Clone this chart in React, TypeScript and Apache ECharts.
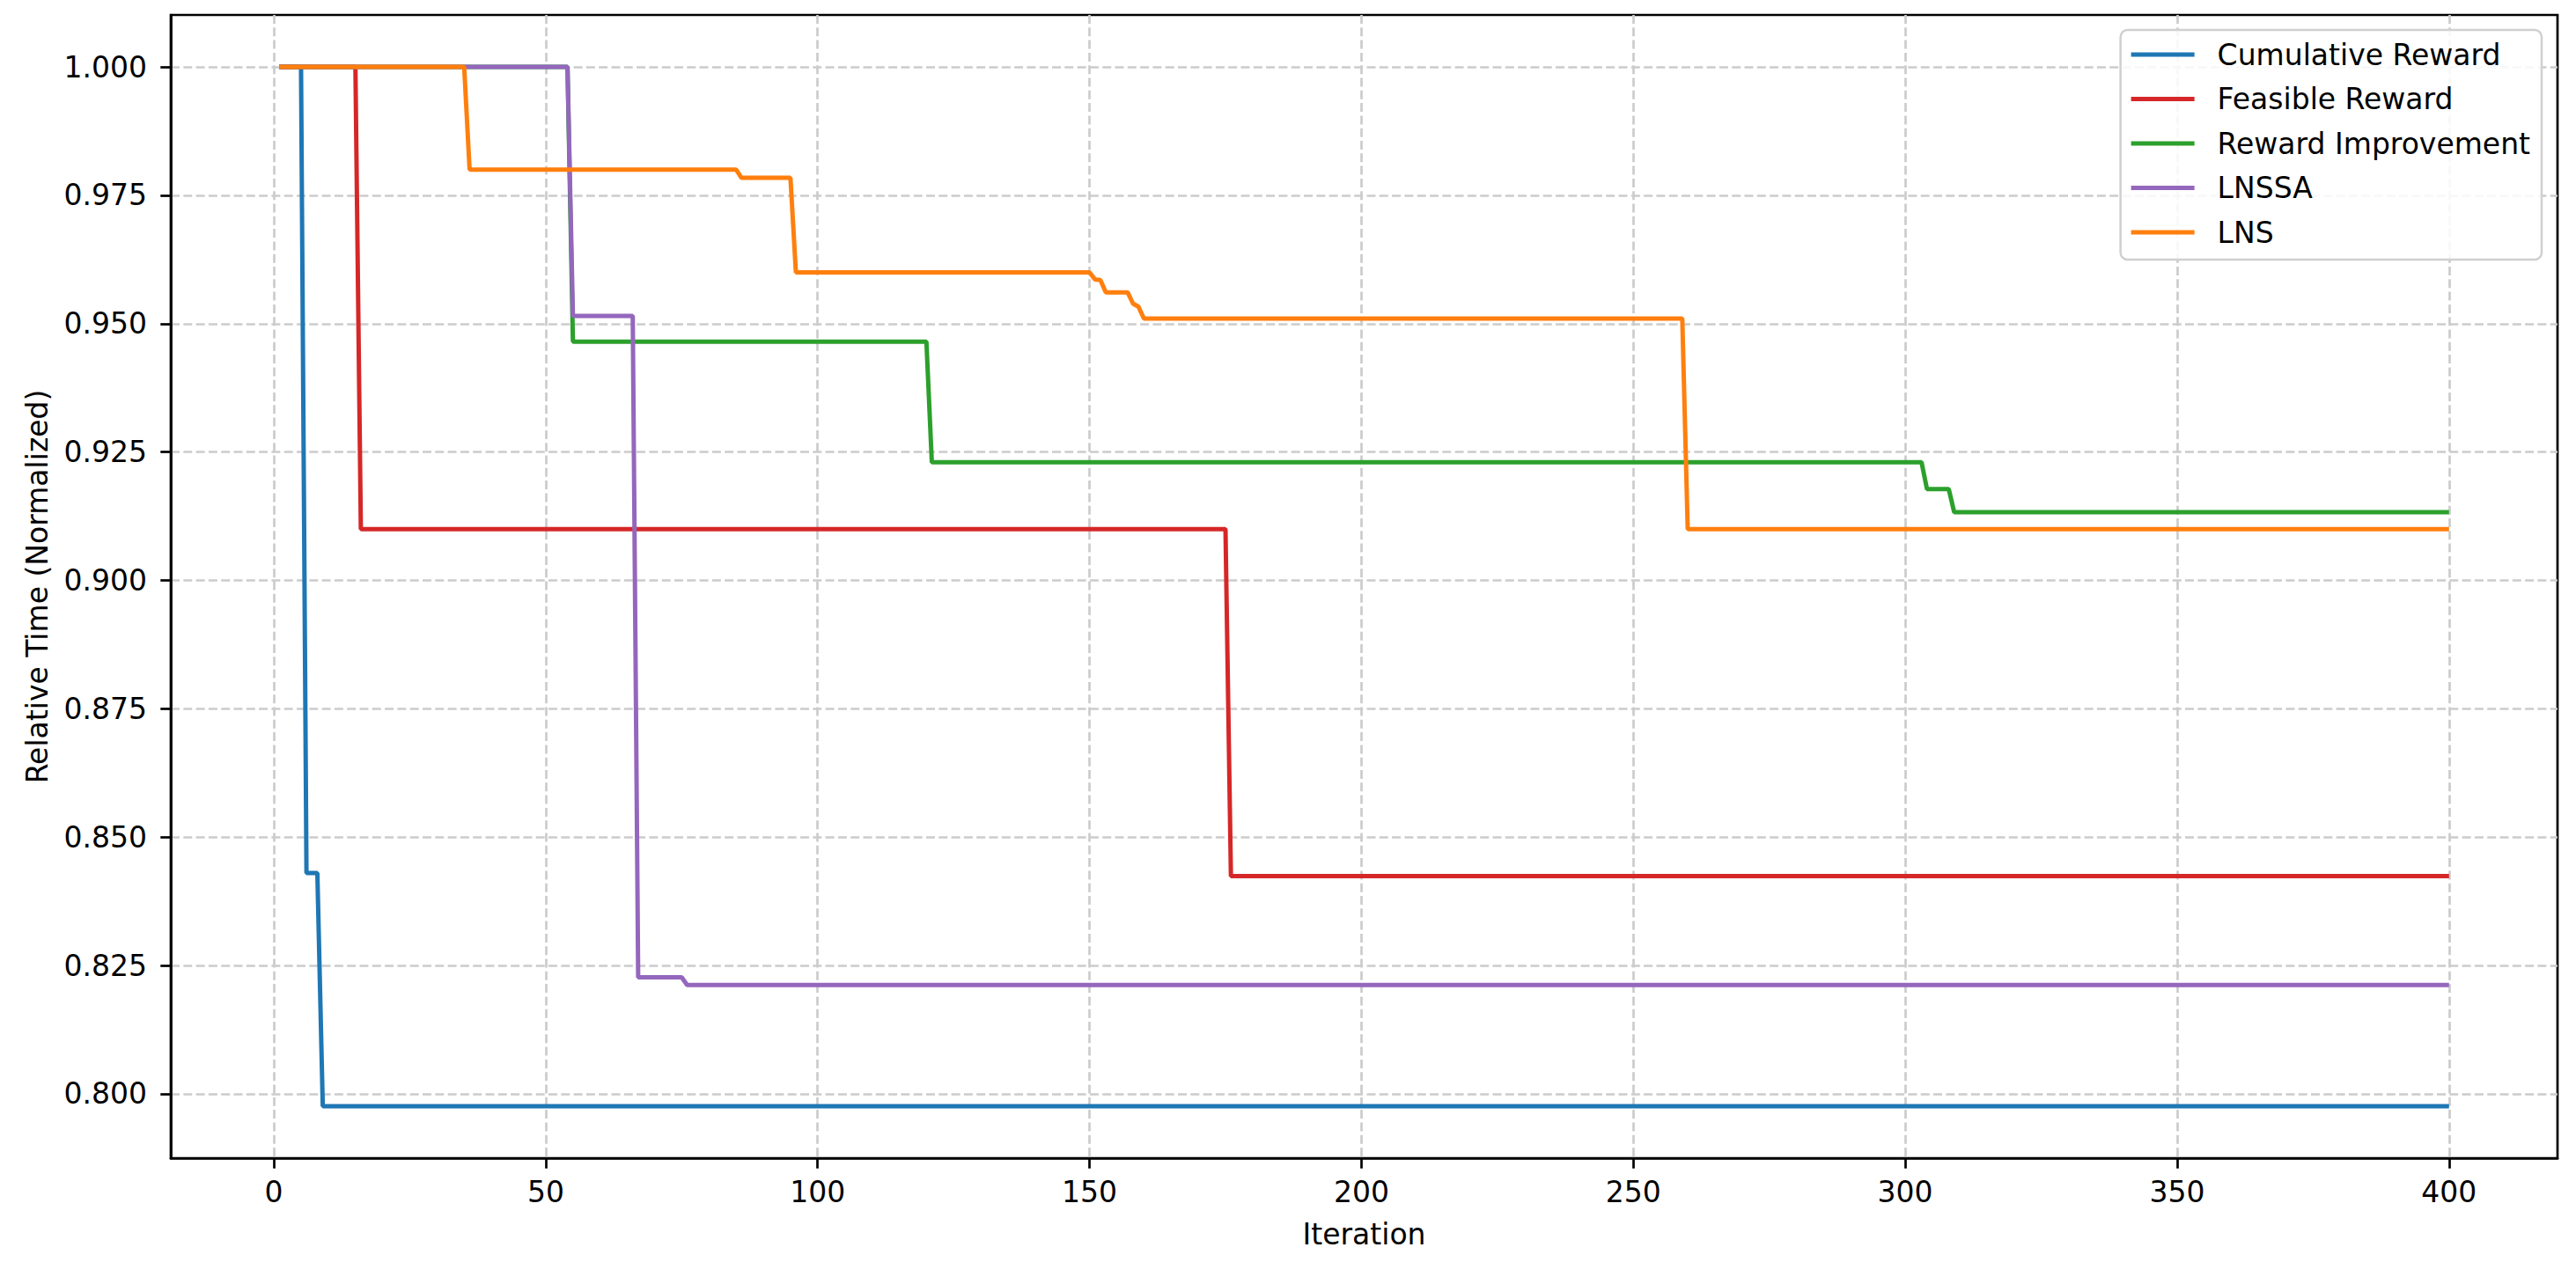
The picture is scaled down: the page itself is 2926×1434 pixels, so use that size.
import React, { useEffect, useRef } from "react";
import * as echarts from "echarts";

// Tick values
const iterationTicks = [0, 50, 100, 150, 200, 250, 300, 350, 400];
const timeTicks = [0.8, 0.825, 0.85, 0.875, 0.9, 0.925, 0.95, 0.975, 1.0];

// Series names and colours
const seriesNames = ["Cumulative Reward", "Feasible Reward", "Reward Improvement", "LNSSA", "LNS"];
const seriesColors = ["#1f77b4", "#d62728", "#2ca02c", "#9467bd", "#ff7f0e"];

// Change points [iteration, relative time]
const cumulativeReward = [[1, 1.0], [5, 1.0], [6, 0.843], [8, 0.843], [9, 0.7976], [400, 0.7976]];
const feasibleReward = [[1, 1.0], [15, 1.0], [16, 0.91], [175, 0.91], [176, 0.8424], [400, 0.8424]];
const rewardImprovement = [
  [1, 1.0], [54, 1.0], [55, 0.9465], [120, 0.9465], [121, 0.923], [303, 0.923],
  [304, 0.9178], [308, 0.9178], [309, 0.9133], [400, 0.9133],
];
const lnssa = [[1, 1.0], [54, 1.0], [55, 0.9515], [66, 0.9515], [67, 0.8227], [75, 0.8227], [76, 0.8212], [400, 0.8212]];
const lns = [
  [1, 1.0], [35, 1.0], [36, 0.98], [85, 0.98], [86, 0.9784], [95, 0.9784], [96, 0.96], [150, 0.96],
  [151, 0.9586], [152, 0.9585], [153, 0.9561], [157, 0.9561], [158, 0.9539], [159, 0.9533],
  [160, 0.951], [259, 0.951], [260, 0.91], [400, 0.91],
];

const allSeries = [cumulativeReward, feasibleReward, rewardImprovement, lnssa, lns];

const FONT = "DejaVu Sans";

export default function App() {
  const ref = useRef<HTMLDivElement>(null);

  useEffect(() => {
    if (!ref.current) return;
    const chart = echarts.init(ref.current, null, { renderer: "svg" });

    // matplotlib-like 5% autoscale margins
    const xs = allSeries.flat().map((p) => p[0]);
    const ys = allSeries.flat().map((p) => p[1]);
    const xMin0 = Math.min(...xs), xMax0 = Math.max(...xs);
    const yMin0 = Math.min(...ys), yMax0 = Math.max(...ys);
    const xm = (xMax0 - xMin0) * 0.05;
    const ym = (yMax0 - yMin0) * 0.05;

    const gridColor = "#cccccc";

    chart.setOption({
      animation: false,
      backgroundColor: "#ffffff",
      grid: {
        left: 194,
        right: 21,
        top: 17,
        bottom: 118,
        show: true,
        borderColor: "#000000",
        borderWidth: 2.7,
        containLabel: false,
      },
      legend: {
        orient: "vertical",
        right: 39,
        top: 34,
        data: seriesNames.map((n) => ({ name: n, icon: "rect" })),
        itemWidth: 72,
        itemHeight: 5,
        itemGap: 10.5,
        padding: [8, 13, 11, 12],
        backgroundColor: "rgba(255,255,255,0.85)",
        borderColor: "#d0d0d0",
        borderWidth: 2.5,
        borderRadius: 8,
        textStyle: {
          fontFamily: FONT,
          fontSize: 33,
          color: "#000000",
          lineHeight: 40,
          padding: [0, 0, 0, 21],
        },
      },
      xAxis: {
        type: "value",
        min: xMin0 - xm,
        max: xMax0 + xm,
        name: "Iteration",
        nameLocation: "middle",
        nameGap: 70,
        nameTextStyle: { fontFamily: FONT, fontSize: 33, color: "#000000" },
        axisLine: { show: true, onZero: false, lineStyle: { color: "#000000", width: 2.7 } },
        axisTick: {
          show: true,
          length: 11.7,
          customValues: iterationTicks,
          lineStyle: { color: "#000000", width: 2.7 },
        },
        axisLabel: {
          customValues: iterationTicks,
          margin: 22,
          fontFamily: FONT,
          fontSize: 33,
          color: "#000000",
          formatter: (v: number) => String(v),
        },
        splitLine: {
          show: true,
          lineStyle: { color: gridColor, width: 2.7, type: [10, 4.3] },
        },
      },
      yAxis: {
        type: "value",
        min: yMin0 - ym,
        max: yMax0 + ym,
        name: "Relative Time (Normalized)",
        nameLocation: "middle",
        nameGap: 135,
        nameTextStyle: { fontFamily: FONT, fontSize: 33, color: "#000000" },
        axisLine: { show: true, onZero: false, lineStyle: { color: "#000000", width: 2.7 } },
        axisTick: {
          show: true,
          length: 11.7,
          customValues: timeTicks,
          lineStyle: { color: "#000000", width: 2.7 },
        },
        axisLabel: {
          customValues: timeTicks,
          margin: 27,
          fontFamily: FONT,
          fontSize: 33,
          color: "#000000",
          formatter: (v: number) => v.toFixed(3),
        },
        splitLine: {
          show: true,
          lineStyle: { color: gridColor, width: 2.7, type: [10, 4.3] },
        },
      },
      series: allSeries.map((data, i) => ({
        name: seriesNames[i],
        type: "line",
        data,
        showSymbol: false,
        symbol: "none",
        color: seriesColors[i],
        itemStyle: { color: seriesColors[i] },
        lineStyle: { color: seriesColors[i], width: 5 },
        z: 2 + i,
      })),
    });

    return () => chart.dispose();
  }, []);

  return (
    <div
      ref={ref}
      style={{ position: "absolute", left: 0, top: 0, width: 2926, height: 1434 }}
    />
  );
}
